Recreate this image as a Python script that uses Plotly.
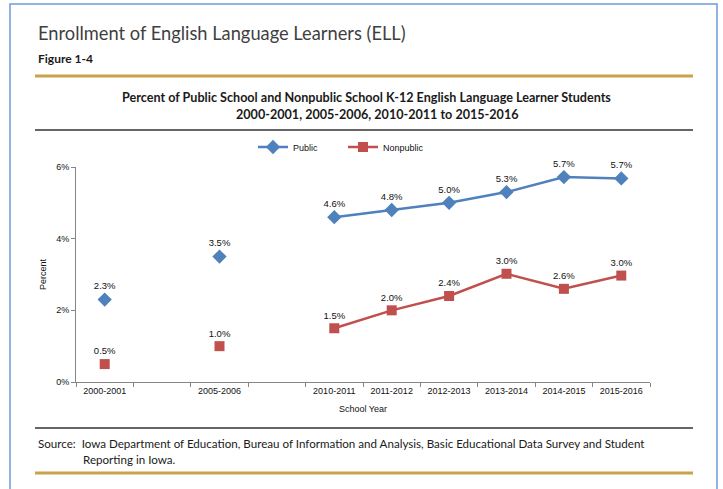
import plotly.graph_objects as go

categories = ["2000-2001", "\u200b", "2005-2006", "\u200b\u200b", "2010-2011", "2011-2012",
              "2012-2013", "2013-2014", "2014-2015", "2015-2016"]
years = ["2000-2001", "2005-2006", "2010-2011", "2011-2012", "2012-2013",
         "2013-2014", "2014-2015", "2015-2016"]
public = [2.3, 3.5, 4.6, 4.8, 5.0, 5.3, 5.72, 5.68]
nonpublic = [0.5, 1.0, 1.5, 2.0, 2.4, 3.02, 2.6, 2.97]
public_labels = ["2.3%", "3.5%", "4.6%", "4.8%", "5.0%", "5.3%", "5.7%", "5.7%"]
nonpublic_labels = ["0.5%", "1.0%", "1.5%", "2.0%", "2.4%", "3.0%", "2.6%", "3.0%"]
y_ticks = [0, 2, 4, 6]
y_ticktext = ["0%", "2%", "4%", "6%"]

W, H = 723, 489
L, R, T, B = 76, 650, 167, 382

def px(x):
    return (x - L) / (R - L)

def py(y):
    return (B - y) / (B - T)

BLUE = "#4F81BD"
RED = "#C0504D"
GOLD = "#C9A24A"
CF = "Liberation Sans"
HF = "Lato"
TXT = "#111111"

fig = go.Figure()
lab_font = dict(family=CF, size=9.5, color=TXT)

# isolated early points
fig.add_trace(go.Scatter(x=years[:2], y=public[:2], mode="markers+text", text=public_labels[:2],
                         textposition="top center", textfont=lab_font, cliponaxis=False,
                         marker=dict(symbol="diamond", size=11, color=BLUE), showlegend=False))
fig.add_trace(go.Scatter(x=years[:2], y=nonpublic[:2], mode="markers+text", text=nonpublic_labels[:2],
                         textposition="top center", textfont=lab_font, cliponaxis=False,
                         marker=dict(symbol="square", size=10, color=RED), showlegend=False))
fig.add_trace(go.Scatter(x=years[2:], y=public[2:], mode="lines+markers+text", text=public_labels[2:],
                         textposition="top center", textfont=lab_font, name="Public", cliponaxis=False,
                         line=dict(color=BLUE, width=2.5), legend="legend",
                         marker=dict(symbol="diamond", size=11, color=BLUE)))
fig.add_trace(go.Scatter(x=years[2:], y=nonpublic[2:], mode="lines+markers+text", text=nonpublic_labels[2:],
                         textposition="top center", textfont=lab_font, name="Nonpublic", cliponaxis=False,
                         line=dict(color=RED, width=2.5), legend="legend2",
                         marker=dict(symbol="square", size=10, color=RED)))

fig.update_xaxes(type="category", categoryorder="array", categoryarray=categories,
                 range=[-0.5, 9.5], tickson="boundaries", ticks="outside", ticklen=4,
                 tickcolor="#868686", showline=True, linecolor="#868686", linewidth=1,
                 showgrid=False, zeroline=False,
                 tickfont=dict(family=CF, size=9, color=TXT),
                 title=dict(text="School Year", font=dict(family=CF, size=9, color=TXT), standoff=10))
fig.update_yaxes(range=[0, 6], tickvals=y_ticks, ticktext=y_ticktext, ticks="outside", ticklen=4,
                 tickcolor="#868686", showline=True, linecolor="#868686", linewidth=1,
                 showgrid=False, zeroline=False,
                 tickfont=dict(family=CF, size=9, color=TXT),
                 title=dict(text="Percent", font=dict(family=CF, size=9, color=TXT), standoff=8))

shapes = [
    dict(type="line", xref="paper", yref="paper", x0=px(35), x1=px(693), y0=py(76), y1=py(76),
         line=dict(color=GOLD, width=3)),
    dict(type="line", xref="paper", yref="paper", x0=px(35), x1=px(693), y0=py(130), y1=py(130),
         line=dict(color="#333333", width=1.5)),
    dict(type="line", xref="paper", yref="paper", x0=px(35), x1=px(693), y0=py(428), y1=py(428),
         line=dict(color="#333333", width=1.5)),
    dict(type="line", xref="paper", yref="paper", x0=px(35), x1=px(693), y0=py(473), y1=py(473),
         line=dict(color=GOLD, width=3)),
    dict(type="rect", xref="paper", yref="paper", x0=px(10), x1=px(717), y0=py(4), y1=py(495),
         line=dict(color="#6E9BD6", width=1.5)),
]

annotations = [
    dict(text="Enrollment of English Language Learners (ELL)", x=px(36), y=py(33), xanchor="left",
         yanchor="middle", font=dict(family=HF, size=18.3, color="#3F3F3F")),
    dict(text="<b>Figure 1-4</b>", x=px(36), y=py(58), xanchor="left", yanchor="middle",
         font=dict(family=HF, size=12, color="#1a1a1a")),
    dict(text="<b>Percent of Public School and Nonpublic School K-12 English Language Learner Students</b>",
         x=px(366), y=py(97), xanchor="center", yanchor="middle",
         font=dict(family=HF, size=12.6, color="#1a1a1a")),
    dict(text="<b>2000-2001, 2005-2006, 2010-2011 to 2015-2016</b>",
         x=px(377), y=py(114), xanchor="center", yanchor="middle",
         font=dict(family=HF, size=12.6, color="#1a1a1a")),
    dict(text="Source:  Iowa Department of Education, Bureau of Information and Analysis, Basic Educational Data Survey and Student",
         x=px(36), y=py(443), xanchor="left", yanchor="middle",
         font=dict(family=HF, size=11.6, color="#1a1a1a")),
    dict(text="Reporting in Iowa.", x=px(81), y=py(459), xanchor="left", yanchor="middle",
         font=dict(family=HF, size=11.6, color="#1a1a1a")),
]
for a in annotations:
    a.update(xref="paper", yref="paper", showarrow=False)

leg_common = dict(orientation="h", yanchor="middle", font=dict(family=CF, size=9, color=TXT),
                  itemwidth=30, bgcolor="rgba(0,0,0,0)", tracegroupgap=0, xanchor="left")
fig.update_layout(
    width=W, height=H,
    margin=dict(l=L, r=W - R, t=T, b=H - B),
    paper_bgcolor="white", plot_bgcolor="white",
    shapes=shapes, annotations=annotations,
    legend=dict(x=px(253), y=py(147), **leg_common),
    legend2=dict(x=px(343), y=py(147), **leg_common),
)

fig.write_html("out.html")
